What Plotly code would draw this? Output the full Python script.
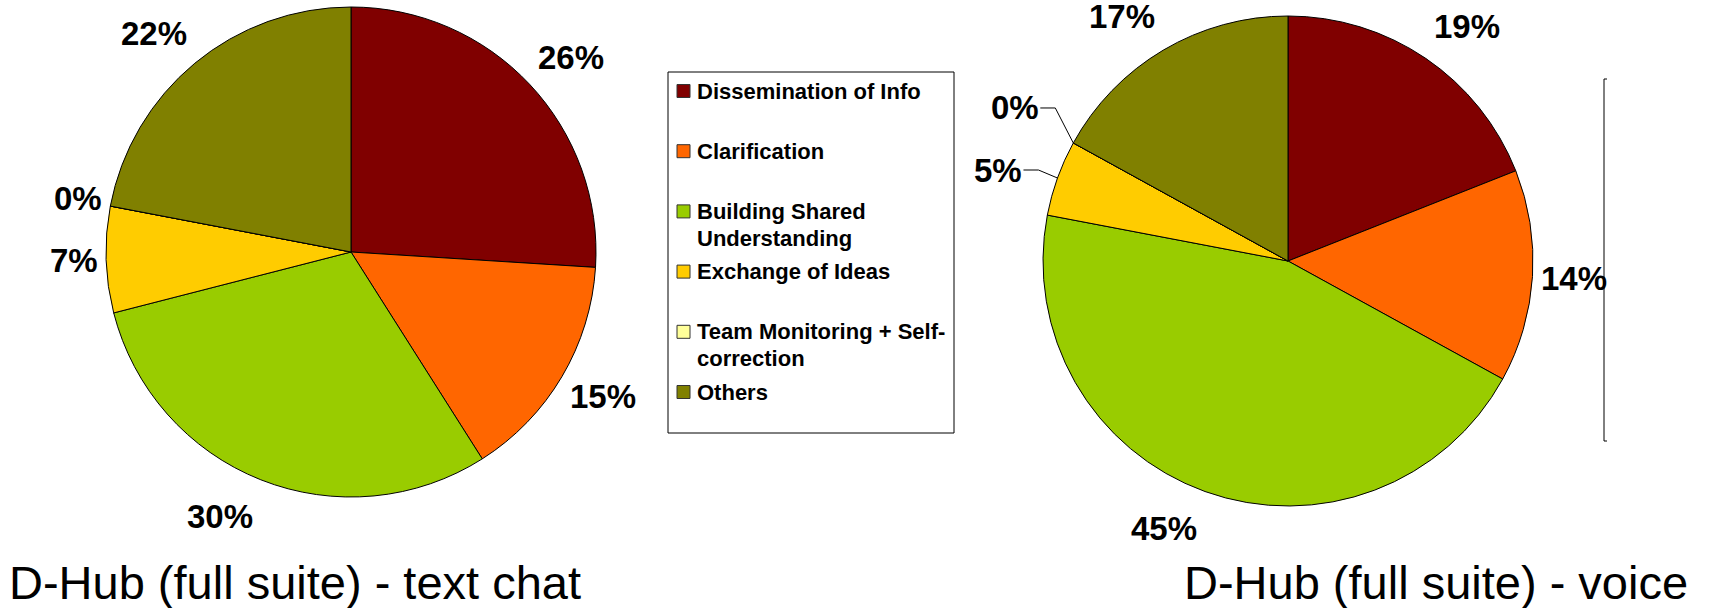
import math
import plotly.graph_objects as go

# ---------------- data ----------------
categories = [
    "Dissemination of Info",
    "Clarification",
    "Building Shared Understanding",
    "Exchange of Ideas",
    "Team Monitoring + Self-correction",
    "Others",
]
legend_lines = [
    ["Dissemination of Info"],
    ["Clarification"],
    ["Building Shared", "Understanding"],
    ["Exchange of Ideas"],
    ["Team Monitoring + Self-", "correction"],
    ["Others"],
]
colors = ["#800000", "#FF6600", "#99CC00", "#FFCC00", "#FFFF99", "#808000"]

text_chat_values = [26, 15, 30, 7, 0, 22]
voice_values = [19, 14, 45, 5, 0, 17]

title_text_chat = "D-Hub (full suite) - text chat"
title_voice = "D-Hub (full suite) - voice"

# ---------------- layout helpers ----------------
W, H = 1711, 608
def fx(x):
    return x / W
def fy(y):
    return 1 - y / H

R = 245
pies = [
    dict(values=text_chat_values, cx=351, cy=252, title=title_text_chat,
         title_x=7, callouts={}),
    dict(values=voice_values, cx=1288, cy=261, title=title_voice,
         title_x=1182, callouts={4: (-18, -35), 3: (-19, -8)}),
]

LABEL_SIZE = 33
FONT = "Liberation Sans, Arial, sans-serif"

fig = go.Figure()
annotations = []
shapes = []

def sign(v):
    return 1 if v > 0 else (-1 if v < 0 else 0)

for p in pies:
    cx, cy = p["cx"], p["cy"]
    fig.add_trace(go.Pie(
        labels=categories,
        values=p["values"],
        sort=False,
        direction="clockwise",
        rotation=0,
        marker=dict(colors=colors, line=dict(color="black", width=1)),
        textinfo="none",
        hoverinfo="label+percent",
        domain=dict(x=[fx(cx - R), fx(cx + R)], y=[fy(cy + R), fy(cy - R)]),
        showlegend=False,
    ))
    total = sum(p["values"])
    cum = 0
    for i, v in enumerate(p["values"]):
        mid = (cum + v / 2) / total
        cum += v
        th = 2 * math.pi * mid
        sx, sy = math.sin(th), -math.cos(th)
        txt = f"{round(100 * v / total)}%"
        ndig = len(txt) - 1
        half_w = 32 * (0.556 * ndig + 0.889) / 2
        if i in p["callouts"]:
            ex, ey = cx + R * sx, cy + R * sy
            ox, oy = p["callouts"][i]
            elx, ely = ex + ox, ey + oy
            endx = elx - 15
            shapes.append(dict(
                type="path",
                path=f"M {fx(ex)} {fy(ey)} L {fx(elx)} {fy(ely)} L {fx(endx)} {fy(ely)}",
                xref="paper", yref="paper", line=dict(color="black", width=1),
            ))
            annotations.append(dict(
                x=fx(endx + 1), y=fy(ely), xref="paper", yref="paper",
                text=f"<b>{txt}</b>", showarrow=False, xanchor="right", yanchor="middle",
                font=dict(size=LABEL_SIZE, color="black", family=FONT),
            ))
        else:
            lx = cx + R * sx + (half_w + 9) * sign(sx)
            ly = cy + (R + 39) * sy
            annotations.append(dict(
                x=fx(lx), y=fy(ly), xref="paper", yref="paper",
                text=f"<b>{txt}</b>", showarrow=False, xanchor="center", yanchor="middle",
                font=dict(size=LABEL_SIZE, color="black", family=FONT),
            ))
    annotations.append(dict(
        x=fx(p["title_x"]), y=fy(582), xref="paper", yref="paper",
        text=p["title"], showarrow=False, xanchor="left", yanchor="middle",
        font=dict(size=47, color="black", family=FONT),
    ))

# ---------------- manual legend ----------------
LX0, LY0, LX1, LY1 = 668, 72, 954, 433
shapes.append(dict(type="rect", xref="paper", yref="paper",
                   x0=fx(LX0), x1=fx(LX1), y0=fy(LY1), y1=fy(LY0),
                   line=dict(color="black", width=1), fillcolor="white", layer="below"))
for k, (lines, col) in enumerate(zip(legend_lines, colors)):
    y0 = 91 + 60.2 * k
    shapes.append(dict(type="rect", xref="paper", yref="paper",
                       x0=fx(677), x1=fx(690), y0=fy(y0 + 6.5), y1=fy(y0 - 6.5),
                       line=dict(color="#333333", width=1), fillcolor=col))
    for j, ln in enumerate(lines):
        annotations.append(dict(
            x=fx(695), y=fy(y0 + 26.7 * j), xref="paper", yref="paper",
            text=f"<b>{ln}</b>", showarrow=False, xanchor="left", yanchor="middle",
            font=dict(size=22, color="black", family=FONT),
        ))

# partially visible frame at right edge
shapes.append(dict(type="path", xref="paper", yref="paper",
                   path=f"M {fx(1607)} {fy(79)} L {fx(1604)} {fy(79)} L {fx(1604)} {fy(441)} L {fx(1607)} {fy(441)}",
                   line=dict(color="black", width=1)))

fig.update_layout(
    width=W, height=H,
    margin=dict(l=0, r=0, t=0, b=0),
    paper_bgcolor="white", plot_bgcolor="white",
    showlegend=False,
    annotations=annotations,
    shapes=shapes,
)

fig.write_html("out.html", config={"displayModeBar": False},
               post_script="document.body.style.margin='0';")
